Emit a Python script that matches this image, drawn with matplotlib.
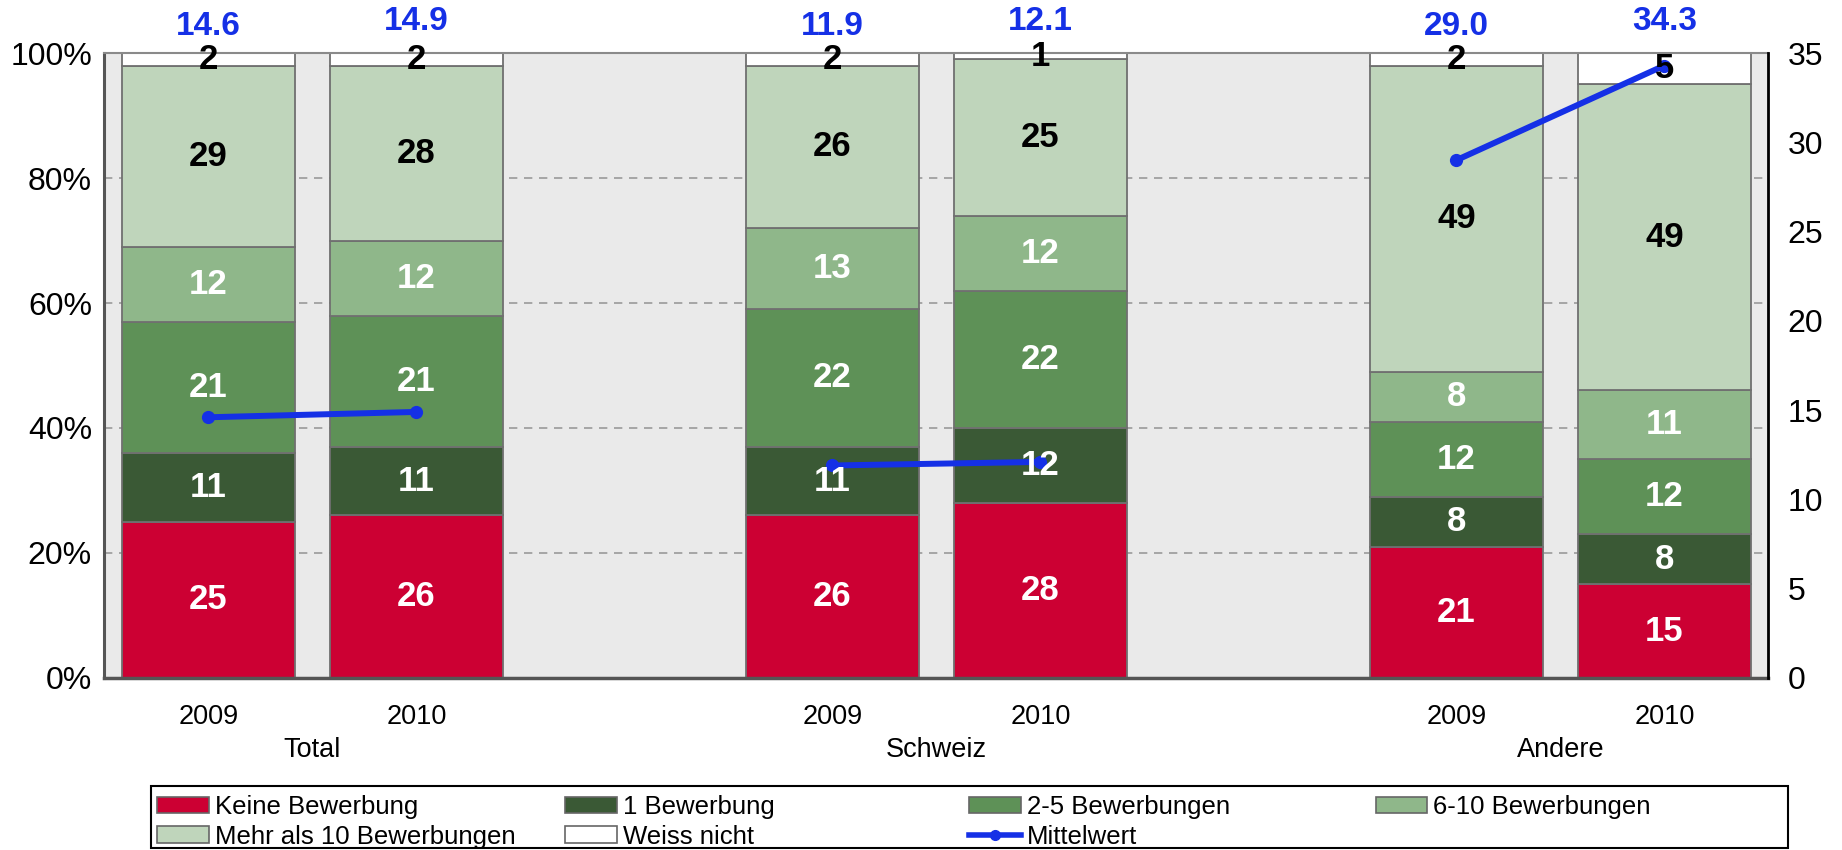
import matplotlib
matplotlib.use('Agg')
import matplotlib.pyplot as plt
from matplotlib.patches import Patch, Rectangle
from matplotlib.lines import Line2D
from matplotlib.ticker import FuncFormatter

# Data: share of respondents by number of applications (%), plus mean
groups = ['Total', 'Schweiz', 'Andere']
years = ['2009', '2010']
keine = [25, 26, 26, 28, 21, 15]
eine = [11, 11, 11, 12, 8, 8]
zwei_fuenf = [21, 21, 22, 22, 12, 12]
sechs_zehn = [12, 12, 13, 12, 8, 11]
mehr_zehn = [29, 28, 26, 25, 49, 49]
weiss_nicht = [2, 2, 2, 1, 2, 5]
mittelwert = [14.6, 14.9, 11.9, 12.1, 29.0, 34.3]

series = [
    ('Keine Bewerbung', keine, '#CC0033', 'white'),
    ('1 Bewerbung', eine, '#3A5935', 'white'),
    ('2-5 Bewerbungen', zwei_fuenf, '#5E9157', 'white'),
    ('6-10 Bewerbungen', sechs_zehn, '#8FB78A', 'white'),
    ('Mehr als 10 Bewerbungen', mehr_zehn, '#BFD5BB', 'black'),
    ('Weiss nicht', weiss_nicht, '#FFFFFF', 'black'),
]
blue = '#1530E6'

x = []
for g in range(len(groups)):
    x += [g * 3, g * 3 + 1]

font = 'Liberation Sans'

fig = plt.figure(figsize=(18.42, 8.5), dpi=100)
ax = fig.add_axes([0.0567, 0.2024, 0.9033, 0.7352])
ax.set_facecolor('#EAEAEA')

ax.set_xlim(-0.5, 7.5)
ax.set_ylim(0, 100)
ax.set_yticks(range(0, 101, 20))
ax.yaxis.set_major_formatter(FuncFormatter(lambda v, p: '%d%%' % v))
ax.set_xticks([])
for yv in [20, 40, 60, 80]:
    ax.axhline(yv, color='#9A9A9A', linestyle=(0, (5, 4)), linewidth=1.2, zorder=1)
ax.tick_params(axis='y', length=0, pad=9, labelsize=23)
for lab in ax.get_yticklabels():
    lab.set_family(font)
ax.spines['left'].set_color('#555555')
ax.spines['left'].set_linewidth(2.2)
ax.spines['bottom'].set_color('#555555')
ax.spines['bottom'].set_linewidth(2.5)
ax.spines['top'].set_color('#8A8A8A')
ax.spines['top'].set_linewidth(1.5)

# year and group labels under the bars
for i, xi in enumerate(x):
    ax.text(xi, -0.063, years[i % 2], transform=ax.get_xaxis_transform(),
            ha='center', va='center', fontsize=19.5, family=font)
for g, name in enumerate(groups):
    ax.text(g * 3 + 0.5, -0.116, name, transform=ax.get_xaxis_transform(),
            ha='center', va='center', fontsize=19.5, family=font)

# mean values on the secondary axis
ax2 = ax.twinx()
ax2.set_ylim(0, 35)
ax2.set_yticks(range(0, 36, 5))
ax2.tick_params(axis='y', length=0, pad=14, labelsize=23)
for lab in ax2.get_yticklabels():
    lab.set_family(font)
for sp in ['left', 'top', 'bottom']:
    ax2.spines[sp].set_visible(False)
ax2.spines['right'].set_color('black')
ax2.spines['right'].set_linewidth(2)

# stacked bars; value labels go on ax2 so they sit above the mean line
bottom = [0] * len(x)
for name, vals, col, tcol in series:
    ax.bar(x, vals, width=0.83, bottom=bottom, color=col, edgecolor='#707070',
           linewidth=1.3, zorder=2)
    for xi, b, v in zip(x, bottom, vals):
        ax2.text(xi, b + v / 2, str(v), transform=ax.transData, ha='center',
                 va='center', color=tcol, fontsize=25, fontweight='bold',
                 family=font, zorder=8)
    bottom = [b + v for b, v in zip(bottom, vals)]

for g in range(len(groups)):
    ax2.plot(x[2 * g:2 * g + 2], mittelwert[2 * g:2 * g + 2], color=blue,
             linewidth=4.3, marker='o', markersize=8.5, zorder=6)
for i, (xi, m) in enumerate(zip(x, mittelwert)):
    ax2.text(xi, 1.043 if i % 2 == 0 else 1.05, '%.1f' % m,
             transform=ax2.get_xaxis_transform(), ha='center', va='center',
             color=blue, fontsize=24, fontweight='bold', family=font)

# legend: four equally wide columns inside one frame
handles = [Patch(facecolor=col, edgecolor='#666666', linewidth=1.2)
           for _, _, col, _ in series]
labels = [s[0] for s in series]
handles.append(Line2D([], [], color=blue, linewidth=4, marker='o', markersize=7))
labels.append('Mittelwert')
columns = [[0, 4], [1, 5], [2, 6], [3]]
col_x = [0.0853, 0.3068, 0.5263, 0.7468]
for cx, idx in zip(col_x, columns):
    fig.legend([handles[i] for i in idx], [labels[i] for i in idx],
               loc='upper left', bbox_to_anchor=(cx, 1 - 795 / 850),
               frameon=False, prop={'family': font, 'size': 18.5},
               handlelength=2.0, handleheight=0.6, handletextpad=0.25,
               labelspacing=0.22, borderpad=0, borderaxespad=0)
fig.add_artist(Rectangle((151 / 1842, 0.002), (1788 - 151) / 1842, (850 - 786) / 850 - 0.002,
                         transform=fig.transFigure, fill=False, edgecolor='black',
                         linewidth=1.5))

fig.savefig('out.png', dpi=100)
